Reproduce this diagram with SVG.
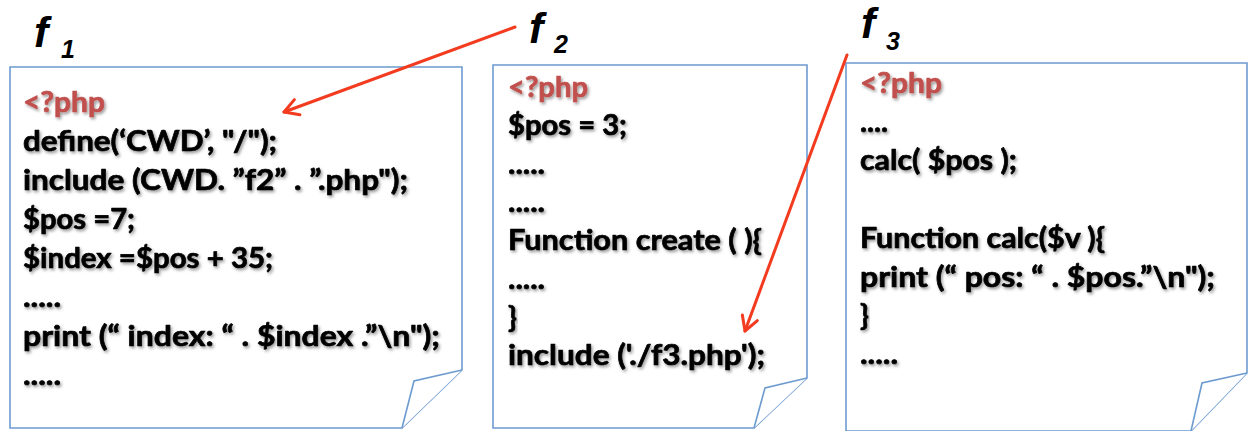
<svg xmlns="http://www.w3.org/2000/svg" width="1248" height="431" viewBox="0 0 1248 431">
  <style>
    .page { fill: #ffffff; stroke: #6d9bd0; stroke-width: 1.6; stroke-linejoin: miter; }
    .fold { fill: #ffffff; stroke: #6d9bd0; stroke-width: 1.6; stroke-linejoin: miter; }
    .code { font-family: Lato, "Open Sans", "Liberation Sans", sans-serif; font-weight: bold; font-size: 29px; fill: #000000; stroke: #000000; stroke-width: 0.7; stroke-linejoin: round; filter: url(#soft); }
    .tag { fill: #c0504d; stroke: #c0504d; }
    .name { font-family: "Liberation Sans", Arial, sans-serif; font-weight: bold; font-style: italic; fill: #000000; }
    .name-f { font-size: 43px; }
    .name-i { font-size: 25px; }
    .link { fill: none; stroke: #f23b1f; stroke-width: 3; stroke-linecap: round; }
  </style>
  <defs>
    <filter id="soft" x="-10%" y="-30%" width="120%" height="170%">
      <feDropShadow dx="1.5" dy="2" stdDeviation="1.5" flood-color="#000000" flood-opacity="0.4"/>
    </filter>
    <marker id="head" viewBox="0 0 20 20" refX="17" refY="10" markerWidth="20" markerHeight="20" markerUnits="userSpaceOnUse" orient="auto">
      <path d="M3,2 L17,10 L3,18" fill="none" stroke="#f23b1f" stroke-width="3" stroke-linecap="round" stroke-linejoin="round"/>
    </marker>
  </defs>

  <!-- file f1 -->
  <g id="f1">
    <path class="page" d="M10,67 H462 V370 L402,428 H10 Z"/>
    <path class="fold" d="M462,370 L414,381 L402,428"/>
    <text class="name name-f" x="34" y="47">f</text>
    <text class="name name-i" x="61" y="58">1</text>
    <text class="code tag" x="23" y="112" textLength="82" lengthAdjust="spacingAndGlyphs">&lt;?php</text>
    <text class="code" x="23" y="151" textLength="254" lengthAdjust="spacingAndGlyphs">define(‘CWD’, "/");</text>
    <text class="code" x="23" y="190" textLength="385" lengthAdjust="spacingAndGlyphs">include (CWD. ”f2” . ”.php");</text>
    <text class="code" x="23" y="229" textLength="112" lengthAdjust="spacingAndGlyphs">$pos =7;</text>
    <text class="code" x="23" y="268" textLength="250" lengthAdjust="spacingAndGlyphs">$index =$pos + 35;</text>
    <text class="code" x="23" y="307" textLength="38" lengthAdjust="spacingAndGlyphs">.....</text>
    <text class="code" x="23" y="346" textLength="417" lengthAdjust="spacingAndGlyphs">print (“ index: “ . $index .”\n");</text>
    <text class="code" x="23" y="385" textLength="38" lengthAdjust="spacingAndGlyphs">.....</text>
  </g>

  <!-- file f2 -->
  <g id="f2">
    <path class="page" d="M493,65 H807 V378 L754,428 H493 Z"/>
    <path class="fold" d="M807,378 L765,388 L754,428"/>
    <text class="name name-f" x="529" y="43">f</text>
    <text class="name name-i" x="554" y="53">2</text>
    <text class="code tag" x="508" y="97" textLength="80" lengthAdjust="spacingAndGlyphs">&lt;?php</text>
    <text class="code" x="508" y="135" textLength="119" lengthAdjust="spacingAndGlyphs">$pos = 3;</text>
    <text class="code" x="508" y="174" textLength="37" lengthAdjust="spacingAndGlyphs">.....</text>
    <text class="code" x="508" y="212" textLength="37" lengthAdjust="spacingAndGlyphs">.....</text>
    <text class="code" x="508" y="250" textLength="254" lengthAdjust="spacingAndGlyphs">Function create ( ){</text>
    <text class="code" x="508" y="289" textLength="37" lengthAdjust="spacingAndGlyphs">.....</text>
    <text class="code" x="508" y="327">}</text>
    <text class="code" x="508" y="365" textLength="257" lengthAdjust="spacingAndGlyphs">include ('./f3.php');</text>
  </g>

  <!-- file f3 -->
  <g id="f3">
    <path class="page" d="M846,63 H1247 V373 L1191,431 H846 Z"/>
    <path class="fold" d="M1247,373 L1202,383 L1191,431"/>
    <text class="name name-f" x="861" y="38">f</text>
    <text class="name name-i" x="886" y="50">3</text>
    <text class="code tag" x="860" y="93" textLength="82" lengthAdjust="spacingAndGlyphs">&lt;?php</text>
    <text class="code" x="860" y="132" textLength="28" lengthAdjust="spacingAndGlyphs">....</text>
    <text class="code" x="860" y="170" textLength="157" lengthAdjust="spacingAndGlyphs">calc( $pos );</text>
    <text class="code" x="860" y="248" textLength="245" lengthAdjust="spacingAndGlyphs">Function calc($v ){</text>
    <text class="code" x="860" y="287" textLength="355" lengthAdjust="spacingAndGlyphs">print (“ pos: “ . $pos.”\n");</text>
    <text class="code" x="860" y="325">}</text>
    <text class="code" x="860" y="364" textLength="38" lengthAdjust="spacingAndGlyphs">.....</text>
  </g>

  <!-- include links -->
  <g id="connectors">
    <line class="link" x1="515" y1="27" x2="284" y2="112" marker-end="url(#head)"/>
    <line class="link" x1="847" y1="55" x2="745" y2="331" marker-end="url(#head)"/>
  </g>
</svg>
